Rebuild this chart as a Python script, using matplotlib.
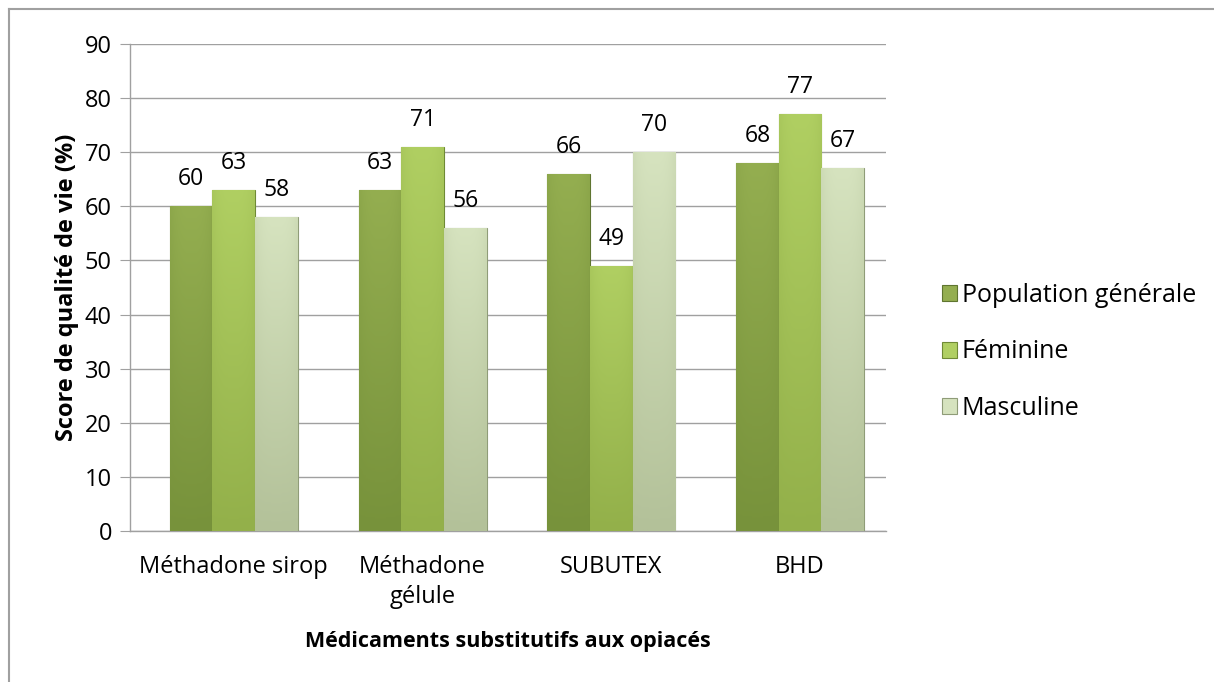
import numpy as np
import matplotlib.pyplot as plt
from matplotlib.colors import LinearSegmentedColormap

# Données
categories = ['Méthadone sirop', 'Méthadone\ngélule', 'SUBUTEX', 'BHD']
series = ['Population générale', 'Féminine', 'Masculine']
pop_generale = [60, 63, 66, 68]
feminine = [63, 71, 49, 77]
masculine = [58, 56, 70, 67]
values = [pop_generale, feminine, masculine]

# Couleurs (haut, bas) pour un léger dégradé
colors = [('#94ae50', '#77923b'), ('#b0cf62', '#93b04a'), ('#d6e3bf', '#b3c199')]
edges = ['#5f7530', '#6f8a35', '#8f9c78']

plt.rcParams['font.family'] = ['Open Sans', 'DejaVu Sans']

fig = plt.figure(figsize=(12.14, 6.82), dpi=100)
ax = fig.add_axes([130 / 1214, 1 - 531 / 682, 756 / 1214, 487 / 682])

x = np.arange(len(categories))
w = 0.226

for k, vals in enumerate(values):
    cmap = LinearSegmentedColormap.from_list('c%d' % k, [colors[k][1], colors[k][0]])
    bars = ax.bar(x + (k - 1) * w, vals, width=w, color=colors[k][0],
                  edgecolor=edges[k], linewidth=0.8, zorder=3, label=series[k])
    for b, v in zip(bars, vals):
        x0 = b.get_x()
        grad = np.linspace(0, 1, 256).reshape(-1, 1)
        # assombrir un peu les bords latéraux
        side = 1 - 0.25 * np.abs(np.linspace(-1, 1, 32)) ** 3
        img = grad * side[None, :]
        im = ax.imshow(img, extent=[x0, x0 + w, 0, v], origin='lower',
                       cmap=cmap, vmin=0, vmax=1, aspect='auto', zorder=3)
        im.set_clip_path(b)
        ax.annotate(str(v), (x0 + w / 2, v), xytext=(0, 19.5), textcoords='offset points',
                    ha='center', va='center', fontsize=16.5, color='black')

ax.set_xlim(-0.55, 3.455)
ax.set_ylim(0, 90)
ax.set_yticks(range(0, 91, 10))
ax.set_xticks(x)
ax.set_xticklabels(categories, fontsize=17, linespacing=1.35)
ax.tick_params(axis='y', labelsize=17, length=7, color='#a0a0a0', pad=6)
ax.tick_params(axis='x', length=0, pad=17)
ax.grid(axis='y', color='#a0a0a0', linewidth=1, zorder=0)
ax.set_axisbelow(True)
for s in ['top', 'right']:
    ax.spines[s].set_visible(False)
for s in ['left', 'bottom']:
    ax.spines[s].set_color('#a0a0a0')
    ax.spines[s].set_linewidth(1)

ax.set_ylabel('Score de qualité de vie (%)', fontsize=17, fontweight='bold', labelpad=4)
ax.set_xlabel('Médicaments substitutifs aux opiacés', fontsize=15.5, fontweight='bold', labelpad=16)

leg = ax.legend(loc='center left', bbox_to_anchor=(1.074, 0.3676), frameon=False,
                fontsize=18, handlelength=0.6, handleheight=0.6, handletextpad=0.2,
                labelspacing=1.25, borderpad=0, borderaxespad=0)

# cadre extérieur (seulement haut et gauche visibles)
fig.add_artist(plt.Line2D([9 / 1214, 1], [1 - 9 / 682] * 2, color='#a0a0a0', lw=1.5,
                          transform=fig.transFigure))
fig.add_artist(plt.Line2D([9 / 1214] * 2, [0, 1 - 9 / 682], color='#a0a0a0', lw=1.5,
                          transform=fig.transFigure))

fig.savefig('out.png', dpi=100)
